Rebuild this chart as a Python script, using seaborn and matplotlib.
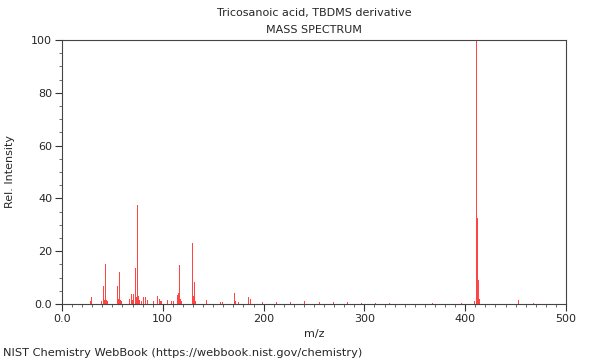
import numpy as np
import pandas as pd
import matplotlib
matplotlib.use("Agg")
import matplotlib.pyplot as plt
import seaborn as sns
from matplotlib.ticker import MultipleLocator, FuncFormatter

title = "Tricosanoic acid, TBDMS derivative"
subtitle = "MASS SPECTRUM"
footer = "NIST Chemistry WebBook (https://webbook.nist.gov/chemistry)"

mz = [28, 29, 39, 41, 42, 43, 44, 45, 55, 56, 57, 58, 59, 67, 69, 70, 71,
      73, 74, 75, 76, 77, 79, 81, 83, 85, 91, 95, 97, 98, 99, 105, 109, 111,
      115, 116, 117, 118, 119, 129, 130, 131, 132, 143, 157, 159, 171, 172,
      175, 185, 187, 199, 213, 227, 241, 255, 269, 283, 297, 311, 325, 368,
      396, 409, 411, 412, 413, 414, 453, 468]
intensity = [1.0, 2.5, 1.0, 7.0, 1.5, 15.0, 1.5, 1.0, 7.0, 2.0, 12.0, 1.5, 1.0,
             2.0, 3.8, 1.5, 3.8, 13.5, 2.5, 37.5, 3.0, 1.5, 1.0, 2.5, 2.5, 1.5,
             1.0, 3.0, 2.0, 1.0, 1.0, 1.5, 1.0, 1.0, 3.5, 4.0, 14.8, 2.0, 1.0,
             23.0, 3.0, 8.3, 1.0, 1.5, 0.8, 0.8, 4.0, 1.0, 0.8, 2.5, 2.0, 0.8,
             0.8, 0.8, 1.0, 0.8, 0.8, 0.6, 0.5, 0.5, 0.4, 0.5, 0.4, 1.0, 100.0,
             32.7, 9.0, 2.0, 1.5, 0.5]

df = pd.DataFrame({"mz": mz, "intensity": intensity})

sns.set_style("white")
plt.rcParams["font.family"] = ["DejaVu Sans"]

fig = plt.figure(figsize=(6, 3.6), dpi=100)
ax = fig.add_axes([62 / 600, 1 - 304 / 360, 504 / 600, 264 / 360])

sns.histplot(data=df, x="mz", weights="intensity", discrete=True, shrink=1.0,
             color="#ff3030", alpha=0.9, linewidth=0, ax=ax, legend=False)

ax.set_xlim(0, 500)
ax.set_ylim(0, 100)
ax.xaxis.set_major_locator(MultipleLocator(100))
ax.xaxis.set_minor_locator(MultipleLocator(10))
ax.yaxis.set_major_locator(MultipleLocator(20))
ax.yaxis.set_minor_locator(MultipleLocator(5))
fmt = FuncFormatter(lambda v, p: "0.0" if v == 0 else f"{v:.0f}")
ax.xaxis.set_major_formatter(fmt)
ax.yaxis.set_major_formatter(fmt)
ax.tick_params(axis="both", which="major", direction="out", length=5, width=0.8,
               color="#333333", labelsize=8, pad=2, bottom=True, left=True)
ax.tick_params(axis="both", which="minor", direction="out", length=2.5, width=0.6,
               color="#555555", bottom=True, left=True)
for s in ax.spines.values():
    s.set_visible(True)
    s.set_color("#444444")
    s.set_linewidth(0.8)

ax.set_xlabel("m/z", fontsize=8, labelpad=4)
ax.set_ylabel("Rel. Intensity", fontsize=8, labelpad=12)

fig.text(314 / 600, 1 - 13 / 360, title, ha="center", va="center", fontsize=8)
fig.text(314 / 600, 1 - 30 / 360, subtitle, ha="center", va="center", fontsize=8)
fig.text(3 / 600, 1 - 353 / 360, footer, ha="left", va="center", fontsize=8.2)

fig.savefig("out.png", dpi=100)
